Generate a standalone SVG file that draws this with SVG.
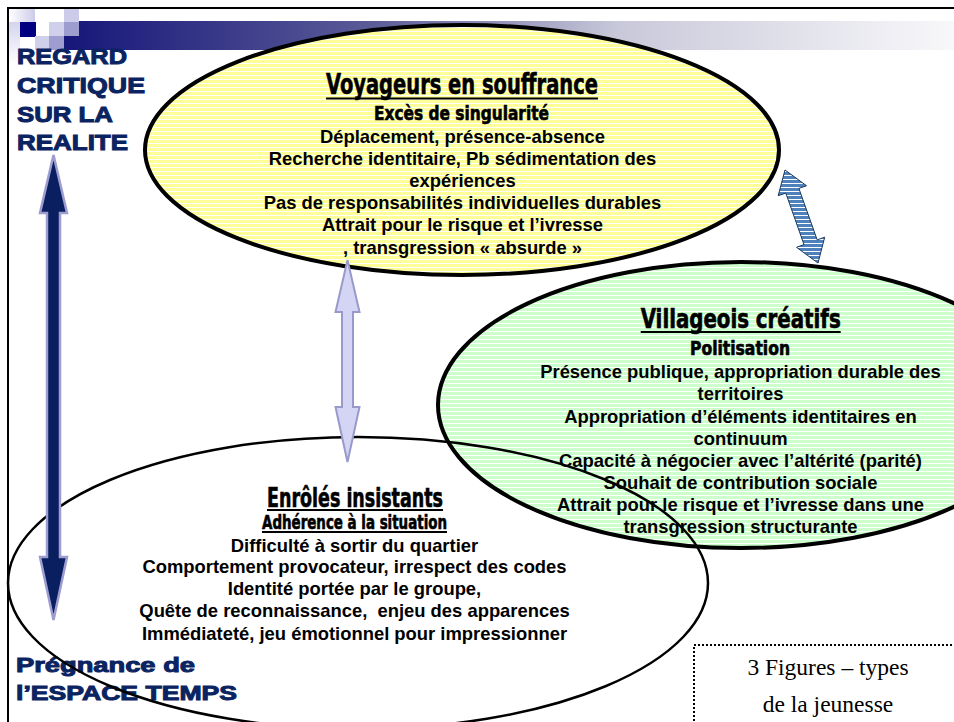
<svg xmlns="http://www.w3.org/2000/svg" width="954" height="722" viewBox="0 0 954 722">
<defs>
<linearGradient id="bar" x1="64" y1="0" x2="954" y2="0" gradientUnits="userSpaceOnUse">
<stop offset="0" stop-color="#16167a"/>
<stop offset="0.35" stop-color="#5c5c98"/>
<stop offset="0.62" stop-color="#c8c8da"/>
<stop offset="1" stop-color="#f8f8fa"/>
</linearGradient>
<linearGradient id="fadeH" x1="0" y1="0" x2="1" y2="0">
<stop offset="0" stop-color="#ffffff"/>
<stop offset="1" stop-color="#ccccea"/>
</linearGradient>
<linearGradient id="fadeV" x1="0" y1="0" x2="0" y2="1">
<stop offset="0" stop-color="#d4d4ee"/>
<stop offset="1" stop-color="#ffffff"/>
</linearGradient>
<pattern id="yStripe" width="8" height="4" patternUnits="userSpaceOnUse">
<rect width="8" height="4" fill="#ffff99"/>
<rect y="3" width="8" height="1" fill="#ffffff"/>
</pattern>
<pattern id="gStripe" width="8" height="4" patternUnits="userSpaceOnUse">
<rect width="8" height="4" fill="#ccffcc"/>
<rect y="3" width="8" height="1" fill="#ffffff"/>
</pattern>
<pattern id="bStripe" width="8" height="4" patternUnits="userSpaceOnUse">
<rect width="8" height="4" fill="#4f81bd"/>
<rect y="3" width="8" height="1" fill="#ffffff"/>
</pattern>
</defs>
<style>
.body{font-family:'Liberation Sans',Arial,sans-serif;font-weight:bold;font-size:18.4px;fill:#000;text-anchor:middle}
.title{font-family:'Liberation Sans Narrow','DejaVu Sans Condensed','Liberation Sans',sans-serif;font-weight:bold;fill:#000;stroke:#000;stroke-width:0.6}
.ul{stroke:#000;stroke-width:2}
.axis{font-family:'Liberation Sans',Arial,sans-serif;font-weight:bold;fill:#0b2461;stroke:#0b2461;stroke-width:1}
.legend{font-family:'Liberation Serif','Times New Roman',serif;font-size:23.5px;text-anchor:middle;fill:#000}
.oval{stroke:#000}
</style>
<rect width="954" height="722" fill="#ffffff"/>
<!-- slide frame -->
<rect x="8" y="8" width="1000" height="1000" fill="none" stroke="#000" stroke-width="2"/>
<!-- header -->
<g id="header">
<rect x="64" y="21" width="890" height="29" fill="url(#bar)"/>
<rect x="9" y="9" width="26" height="13" fill="url(#fadeH)"/>
<rect x="9" y="22" width="11" height="42" fill="url(#fadeV)"/>
<rect x="64" y="9" width="15" height="13" fill="#ccccea"/>
<rect x="20" y="22" width="16" height="15" fill="#000080"/>
<rect x="49" y="22" width="15" height="14" fill="#d0d0ea"/>
<rect x="64" y="22" width="15" height="14" fill="#9d9dd0"/>
<rect x="35" y="36" width="14" height="14" fill="#d0d0ea"/>
<rect x="49" y="36" width="15" height="14" fill="#9d9dd0"/>
</g>
<!-- nodes -->
<g id="node-voyageurs">
<ellipse cx="462" cy="150" rx="317" ry="125" fill="url(#yStripe)" class="oval" stroke-width="4"/>
<text class="title" x="326" y="94.3" font-size="29" textLength="272" lengthAdjust="spacingAndGlyphs">Voyageurs en souffrance</text>
<line class="ul" x1="326" y1="98.5" x2="598" y2="98.5"/>
<text class="title" x="374" y="120" font-size="19.5" textLength="175" lengthAdjust="spacingAndGlyphs">Excès de singularité</text>
<text class="body" x="462.5" y="142.5">Déplacement, présence-absence</text>
<text class="body" x="462.5" y="164.7">Recherche identitaire, Pb sédimentation des</text>
<text class="body" x="462.5" y="186.9">expériences</text>
<text class="body" x="462.5" y="209.1">Pas de responsabilités individuelles durables</text>
<text class="body" x="462.5" y="231.3">Attrait pour le risque et l’ivresse</text>
<text class="body" x="462.5" y="253.5">, transgression « absurde »</text>
</g>
<g id="node-villageois">
<ellipse cx="741" cy="405" rx="303" ry="143" fill="url(#gStripe)" class="oval" stroke-width="4"/>
<text class="title" x="640.7" y="328.3" font-size="26" textLength="200" lengthAdjust="spacingAndGlyphs">Villageois créatifs</text>
<line class="ul" x1="640.7" y1="332" x2="840.7" y2="332"/>
<text class="title" x="690" y="355" font-size="19" textLength="100" lengthAdjust="spacingAndGlyphs">Politisation</text>
<text class="body" x="740.5" y="378.3">Présence publique, appropriation durable des</text>
<text class="body" x="740.5" y="400.4">territoires</text>
<text class="body" x="740.5" y="422.5">Appropriation d’éléments identitaires en</text>
<text class="body" x="740.5" y="444.6">continuum</text>
<text class="body" x="740.5" y="466.7">Capacité à négocier avec l’altérité (parité)</text>
<text class="body" x="740.5" y="488.8">Souhait de contribution sociale</text>
<text class="body" x="740.5" y="510.9">Attrait pour le risque et l’ivresse dans une</text>
<text class="body" x="740.5" y="533">transgression structurante</text>
</g>
<g id="axis-labels">
<text class="axis" x="17" y="64.3" font-size="22.3" textLength="110" lengthAdjust="spacingAndGlyphs">REGARD</text>
<text class="axis" x="17" y="92.7" font-size="22.3" textLength="128" lengthAdjust="spacingAndGlyphs">CRITIQUE</text>
<text class="axis" x="17" y="121.7" font-size="22.3" textLength="96" lengthAdjust="spacingAndGlyphs">SUR LA</text>
<text class="axis" x="17" y="150" font-size="22.3" textLength="111" lengthAdjust="spacingAndGlyphs">REALITE</text>
<text class="axis" x="16" y="671.7" font-size="21" textLength="179" lengthAdjust="spacingAndGlyphs">Prégnance de</text>
<text class="axis" x="16" y="700" font-size="21" textLength="221" lengthAdjust="spacingAndGlyphs">l’ESPACE TEMPS</text>
</g>
<g id="node-enroles">
<ellipse cx="358" cy="583" rx="350" ry="146" fill="none" class="oval" stroke-width="2.5"/>
<text class="title" x="267" y="506.7" font-size="26" textLength="176" lengthAdjust="spacingAndGlyphs">Enrôlés insistants</text>
<line class="ul" x1="267" y1="510" x2="443" y2="510"/>
<text class="title" x="262" y="529" font-size="19" textLength="185" lengthAdjust="spacingAndGlyphs">Adhérence à la situation</text>
<line class="ul" x1="262" y1="532" x2="447" y2="532"/>
<text class="body" x="354.5" y="552">Difficulté à sortir du quartier</text>
<text class="body" x="354.5" y="573.3">Comportement provocateur, irrespect des codes</text>
<text class="body" x="354.5" y="595">Identité portée par le groupe,</text>
<text class="body" x="354.5" y="617" xml:space="preserve">Quête de reconnaissance,  enjeu des apparences</text>
<text class="body" x="354.5" y="640">Immédiateté, jeu émotionnel pour impressionner</text>
</g>
<g id="connectors">
<polygon id="arrow-axis" points="53.5,155 67,213 60,213 60,557 67,557 53.5,620 40,557 47,557 47,213 40,213" fill="#0a1f5f" stroke="#9d9dd0" stroke-width="2.5" stroke-linejoin="miter"/>
<polygon id="arrow-voy-enr" points="347.5,260 359.5,312 353,312 353,407 359.5,407 347.5,462 335.5,407 342,407 342,312 335.5,312" fill="#d4d4f4" stroke="#9999cc" stroke-width="2"/>
<polygon id="arrow-voy-vil" points="785,170 806.5,185.7 798.9,188.4 817.2,239.9 824.7,237.2 818,263 796.5,247.3 804,244.6 785.8,193.1 778.2,195.7" fill="url(#bStripe)" stroke="#17375e" stroke-width="1"/>
</g>
<g id="legend">
<rect x="694" y="645" width="300" height="120" fill="none" stroke="#000" stroke-width="2" stroke-dasharray="2,2"/>
<text class="legend" x="828" y="675">3 Figures – types</text>
<text class="legend" x="828" y="711.7">de la jeunesse</text>
</g>
</svg>
